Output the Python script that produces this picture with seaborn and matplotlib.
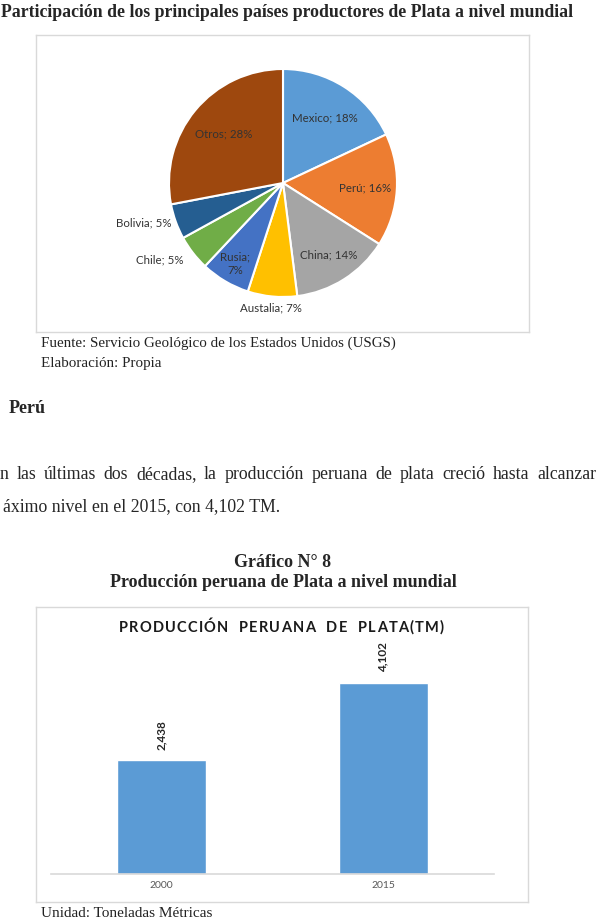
import seaborn as sb
import numpy as np
import pandas as pd
import matplotlib.pyplot as plt

# datos del grafico de torta
paises = ["Mexico", "Perú", "China", "Austalia", "Rusia", "Chile", "Bolivia", "Otros"]
participacion = [18, 16, 14, 7, 7, 5, 5, 28]
colores_pie = ["#5B9BD5", "#ED7D31", "#A5A5A5", "#FFC000",
               "#4472C4", "#70AD47", "#255E91", "#9E480E"]

# datos del grafico de barras
anios = ["2000", "2015"]
produccion = [2438, 4102]

W, H = 599, 924
SERIF = ["Liberation Serif", "DejaVu Serif"]
SANS = ["Lato", "DejaVu Sans"]


def fx(x):
    return x / W


def fy(y):
    return 1 - y / H


def ax_px(fig, x0, y0, x1, y1, **kw):
    return fig.add_axes([x0 / W, 1 - y1 / H, (x1 - x0) / W, (y1 - y0) / H], **kw)


def justify(fig, text, x0, x1, y, **kw):
    r = fig.canvas.get_renderer()
    words = text.split()
    objs = [fig.text(0, fy(y), w, **kw) for w in words]
    widths = [o.get_window_extent(r).width for o in objs]
    gap = (x1 - x0 - sum(widths)) / (len(words) - 1)
    x = x0
    for o, w in zip(objs, widths):
        o.set_x(fx(x))
        x += w + gap


def tracked(fig, text, xc, y, track, space, **kw):
    r = fig.canvas.get_renderer()
    objs, widths = [], []
    for c in text:
        if c == " ":
            objs.append(None)
            widths.append(space)
            continue
        o = fig.text(0, fy(y), c, **kw)
        objs.append(o)
        widths.append(o.get_window_extent(r).width + track)
    x = xc - (sum(widths) - track) / 2
    for o, w in zip(objs, widths):
        if o is not None:
            o.set_x(fx(x))
        x += w


if __name__ == '__main__':
    sb.set_style("white")
    fig = plt.figure(figsize=(W / 100, H / 100), dpi=100)

    # ---- textos de la pagina ----
    fig.text(fx(1), fy(17), "Participación de los principales países productores de Plata a nivel mundial",
             ha="left", va="baseline", family=SERIF, weight="bold", fontsize=12.8)
    fig.text(fx(41), fy(347), "Fuente: Servicio Geológico de los Estados Unidos (USGS)",
             va="baseline", family=SERIF, fontsize=10.8, color="#222222")
    fig.text(fx(41), fy(367), "Elaboración: Propia",
             va="baseline", family=SERIF, fontsize=10.8, color="#222222")
    fig.text(fx(9), fy(413), "Perú", va="baseline", family=SERIF, weight="bold", fontsize=13)
    justify(fig, "n las últimas dos décadas, la producción peruana de plata creció hasta alcanzar",
            0, 596, 479, va="baseline", family=SERIF, fontsize=12.8)
    fig.text(fx(3), fy(511), "áximo nivel en el 2015, con 4,102 TM.",
             va="baseline", family=SERIF, fontsize=12.8)
    fig.text(fx(283), fy(567), "Gráfico N° 8", ha="center", va="baseline",
             family=SERIF, weight="bold", fontsize=13)
    fig.text(fx(283), fy(587), "Producción peruana de Plata a nivel mundial", ha="center",
             va="baseline", family=SERIF, weight="bold", fontsize=13)
    fig.text(fx(41), fy(917), "Unidad: Toneladas Métricas",
             va="baseline", family=SERIF, fontsize=11, color="#222222")

    # ---- marcos ----
    for box in [(36, 35, 529, 332), (36, 607, 528, 902)]:
        bx = ax_px(fig, *box)
        bx.set_xticks([])
        bx.set_yticks([])
        for s in bx.spines.values():
            s.set_color("#D9D9D9")
            s.set_linewidth(1)

    # ---- torta ----
    ax = ax_px(fig, 169, 69, 397, 297)
    wedges, _ = ax.pie(participacion, colors=colores_pie, startangle=90, counterclock=False,
                       wedgeprops=dict(edgecolor="white", linewidth=1.5))
    ax.set_xlim(-1, 1)
    ax.set_ylim(-1, 1)
    ax.set_aspect("auto")

    dist = [0.68, 0.72, 0.75, 1.10, 0.82, 1.10, 1.04, 0.68]
    align = ["center", "center", "center", "center", "center", "right", "right", "center"]
    for w, pais, pct, d, ha in zip(wedges, paises, participacion, dist, align):
        ang = np.deg2rad((w.theta1 + w.theta2) / 2)
        sep = ";\n" if pais == "Rusia" else "; "
        ax.text(d * np.cos(ang), d * np.sin(ang), f"{pais}{sep}{pct}%", ha=ha, va="center",
                family=SANS, fontsize=8.3, color="#333333", linespacing=1.3)

    # ---- barras ----
    df = pd.DataFrame({"anio": anios, "produccion": produccion})
    bax = ax_px(fig, 51, 641, 494, 874)
    sb.barplot(data=df, x="anio", y="produccion", color="#5B9BD5", saturation=1,
               width=0.4, ax=bax)
    bax.set_ylim(0, 5000)
    bax.set_xlim(-0.5, 1.5)
    bax.set_xlabel("")
    bax.set_ylabel("")
    bax.set_yticks([])
    bax.set_facecolor("none")
    for s in ["top", "left", "right"]:
        bax.spines[s].set_visible(False)
    bax.spines["bottom"].set_color("#D9D9D9")
    bax.spines["bottom"].set_linewidth(1.2)
    bax.tick_params(axis="x", length=0, pad=5, labelsize=7.5, labelcolor="#595959")
    for lbl in bax.get_xticklabels():
        lbl.set_family(SANS)
    bax.bar_label(bax.containers[0], labels=[f"{v:,}" for v in produccion], rotation=90,
                  padding=7.5, fontsize=8.5, weight="bold", family=SANS, color="#262626")

    tracked(fig, "PRODUCCIÓN  PERUANA  DE  PLATA(TM)", 281.5, 632, 1.2, 5,
            va="baseline", family=SANS, weight="bold", fontsize=10.5, color="#1a1a1a")

    plt.savefig("out.png", dpi=100)
